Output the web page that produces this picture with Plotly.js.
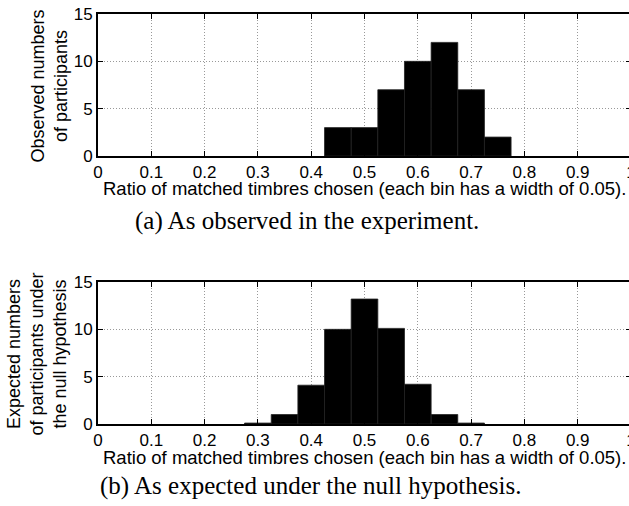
<!DOCTYPE html>
<html>
<head>
<meta charset="utf-8">
<script src="https://cdn.plot.ly/plotly-3.0.1.min.js"></script>
<style>
  html, body { margin: 0; padding: 0; overflow: hidden; background: #fff; }
  #chart { width: 640px; height: 506px; }
</style>
</head>
<body>
<div id="chart"></div>
<script>
// Histogram bins (width 0.05), given by their centres
const observedBins = [0.45, 0.50, 0.55, 0.60, 0.65, 0.70, 0.75];
const observedCounts = [3, 3, 7, 10, 12, 7, 2];

const expectedBins = [0.30, 0.35, 0.40, 0.45, 0.50, 0.55, 0.60, 0.65, 0.70];
const expectedCounts = [0.1, 1.0, 4.1, 10.0, 13.2, 10.1, 4.2, 1.0, 0.1];

const binWidth = 0.05;
const xTicks = [0, 0.1, 0.2, 0.3, 0.4, 0.5, 0.6, 0.7, 0.8, 0.9, 1];
const xTickText = ['0', '0.1', '0.2', '0.3', '0.4', '0.5', '0.6', '0.7', '0.8', '0.9', '1'];
const yTicks = [0, 5, 10, 15];

const xTitle = 'Ratio of matched timbres chosen (each bin has a width of 0.05).';
const yTitleTop = 'Observed numbers<br>of participants';
const yTitleBottom = 'Expected numbers<br>of participants under<br>the null hypothesis';
const captionTop = '(a) As observed in the experiment.';
const captionBottom = '(b) As expected under the null hypothesis.';

const W = 640, H = 506;
const px = v => v / W;            // horizontal pixel -> paper
const py = v => (H - v) / H;      // vertical pixel (from top) -> paper

const sans = 'Liberation Sans, Arial, Helvetica, sans-serif';
const serif = 'Liberation Serif, Times New Roman, serif';

function barTrace(x, y, xa, ya) {
  return {
    type: 'bar', x: x, y: y, width: binWidth,
    xaxis: xa, yaxis: ya,
    marker: { color: '#000', line: { color: '#222', width: 0.8 } },
    hoverinfo: 'skip', showlegend: false
  };
}

const gridStyle = { showgrid: true, gridcolor: '#999', griddash: '1px,2px', gridwidth: 1 };

function xAxis(anchor) {
  return Object.assign({
    domain: [px(98), px(631)], anchor: anchor,
    range: [0, 1], tickvals: xTicks, ticktext: xTickText,
    ticks: 'inside', ticklen: 5, tickwidth: 1, tickcolor: '#000',
    showline: true, linecolor: '#000', linewidth: 2, mirror: 'allticks',
    zeroline: false, fixedrange: true,
    tickfont: { family: sans, size: 17, color: '#000' }
  }, gridStyle);
}

function yAxis(anchor, top, bottom) {
  return Object.assign({
    domain: [py(bottom), py(top)], anchor: anchor,
    range: [0, 15], tickvals: yTicks,
    ticks: 'inside', ticklen: 5, tickwidth: 1, tickcolor: '#000',
    showline: true, linecolor: '#000', linewidth: 2, mirror: 'allticks',
    zeroline: false, fixedrange: true,
    tickfont: { family: sans, size: 17, color: '#000' }
  }, gridStyle);
}

const data = [
  barTrace(observedBins, observedCounts, 'x', 'y'),
  barTrace(expectedBins, expectedCounts, 'x2', 'y2')
];

const layout = {
  width: W, height: H,
  margin: { l: 0, r: 0, t: 0, b: 0 },
  paper_bgcolor: '#fff', plot_bgcolor: '#fff',
  bargap: 0,
  xaxis: xAxis('y'),
  yaxis: yAxis('x', 14, 156),
  xaxis2: xAxis('y2'),
  yaxis2: yAxis('x2', 282, 424),
  annotations: [
    { text: xTitle, xref: 'paper', yref: 'paper', x: px(364), y: py(175.5), xanchor: 'center', yanchor: 'top',
      showarrow: false, font: { family: sans, size: 18.5, color: '#000' } },
    { text: xTitle, xref: 'paper', yref: 'paper', x: px(364), y: py(444.5), xanchor: 'center', yanchor: 'top',
      showarrow: false, font: { family: sans, size: 18.5, color: '#000' } },
    { text: yTitleTop, xref: 'paper', yref: 'paper', x: px(72), y: py(86), xanchor: 'right', yanchor: 'middle',
      textangle: -90, showarrow: false, font: { family: sans, size: 18, color: '#000' } },
    { text: yTitleBottom, xref: 'paper', yref: 'paper', x: px(72), y: py(354), xanchor: 'right', yanchor: 'middle',
      textangle: -90, showarrow: false, font: { family: sans, size: 18, color: '#000' } },
    { text: captionTop, xref: 'paper', yref: 'paper', x: px(307), y: py(221), xanchor: 'center', yanchor: 'middle',
      showarrow: false, font: { family: serif, size: 25, color: '#000' } },
    { text: captionBottom, xref: 'paper', yref: 'paper', x: px(310), y: py(486), xanchor: 'center', yanchor: 'middle',
      showarrow: false, font: { family: serif, size: 25, color: '#000' } }
  ]
};

Plotly.newPlot('chart', data, layout, { staticPlot: true, displayModeBar: false });
</script>
</body>
</html>
